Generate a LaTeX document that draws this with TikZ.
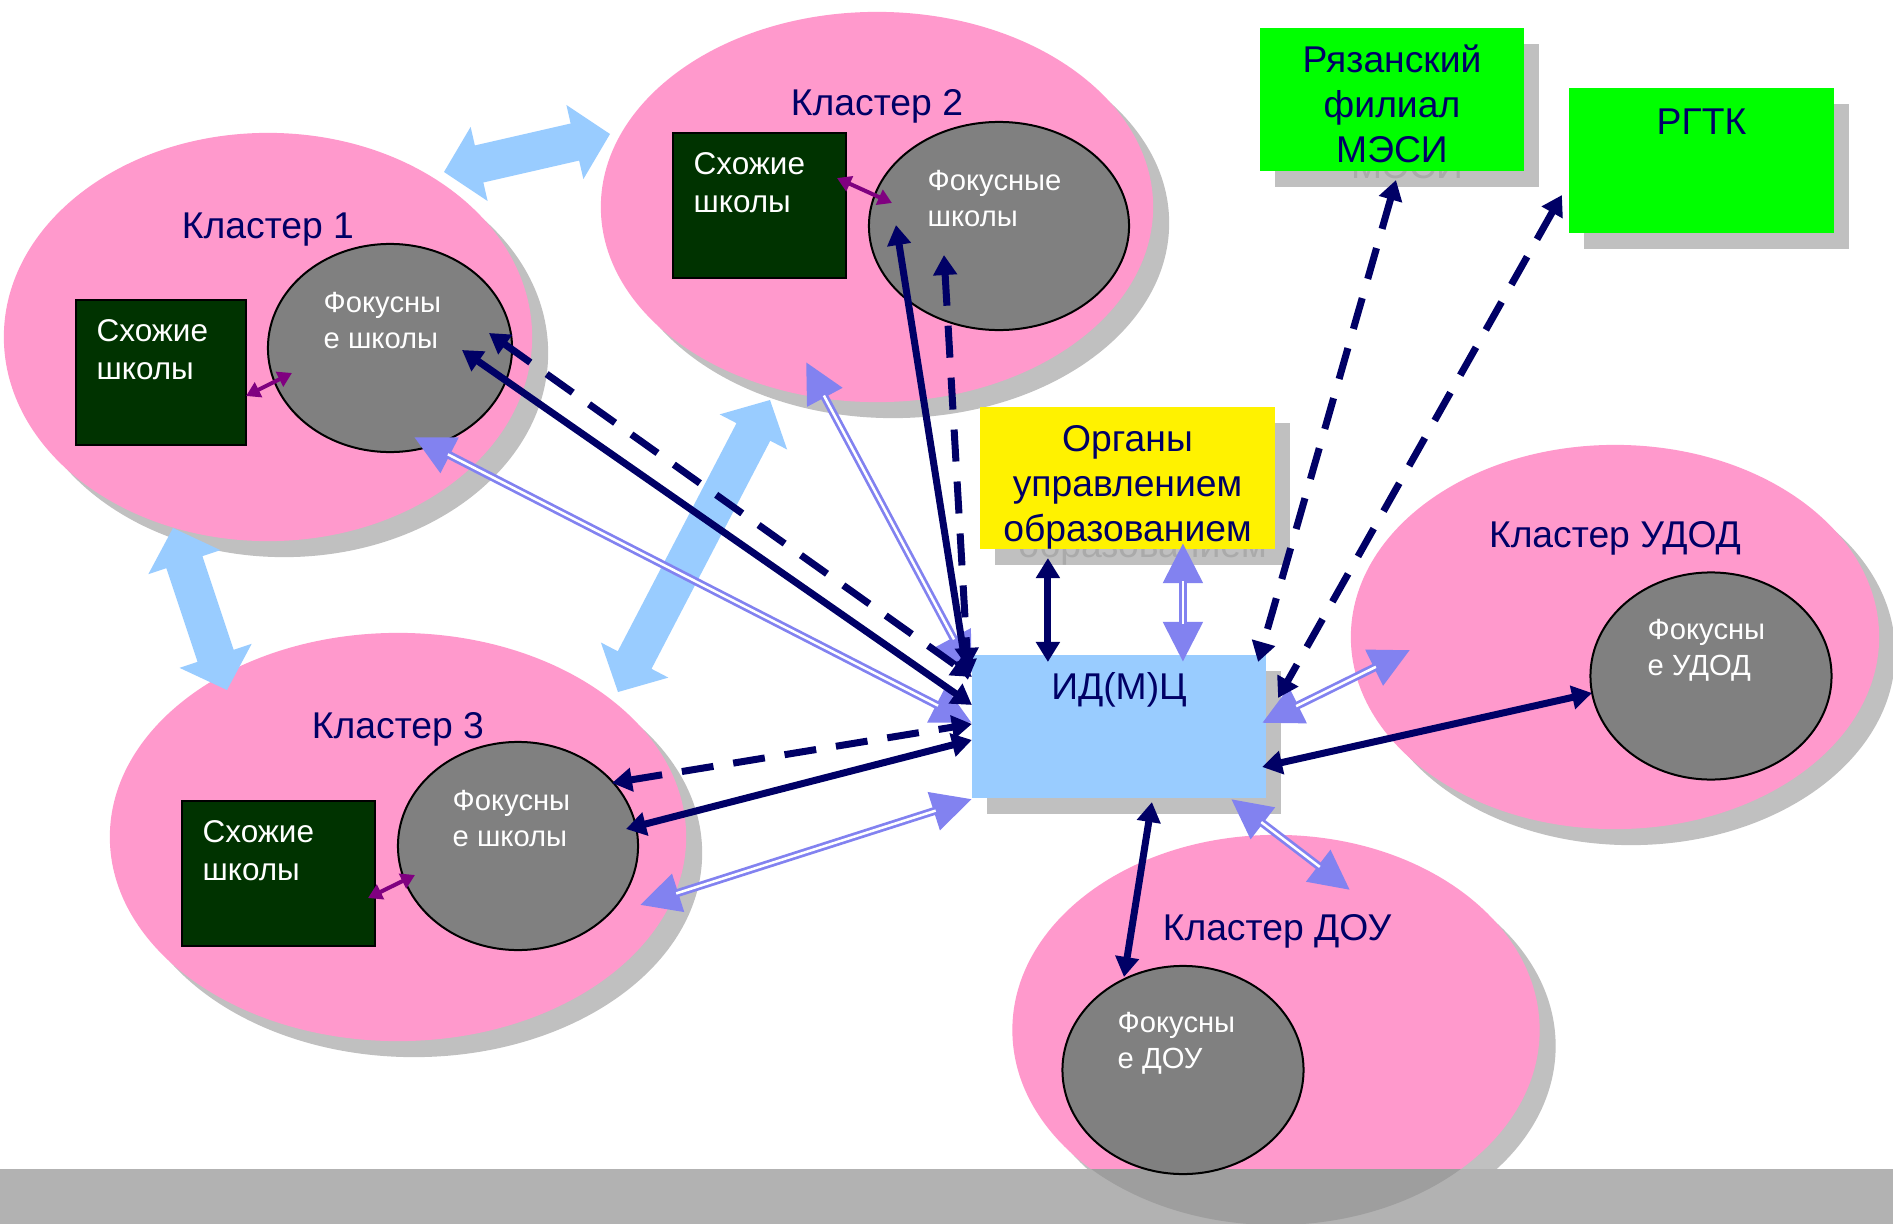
\documentclass[tikz,border=0pt]{standalone}
\usepackage{fontspec}
\setmainfont{Liberation Sans}
\usepackage{tikz}
\usetikzlibrary{calc}
\usetikzlibrary{arrows.meta}
\usetikzlibrary{shapes.geometric}
\usetikzlibrary{shadows}

\definecolor{pinkfill}{HTML}{FF99CC}
\definecolor{shadowgray}{HTML}{C0C0C0}
\definecolor{ghostgray}{HTML}{AAAAAA}
\definecolor{darkgreen}{HTML}{003300}
\definecolor{focusgray}{HTML}{808080}
\definecolor{navy}{HTML}{000066}
\definecolor{lightblue}{HTML}{99CCFF}
\definecolor{lilac}{HTML}{8282F0}
\definecolor{plum}{HTML}{800080}
\definecolor{bandgray}{HTML}{B2B2B2}
\definecolor{banddark}{HTML}{9E9E9E}

\newcommand{\blockarrow}[2]{%
  \coordinate (ba_a) at #1;
  \coordinate (ba_b) at #2;
  \fill[lightblue] (ba_a)
    -- ($(ba_a)!3.6mm!(ba_b)!3.8mm!90:(ba_b)$)
    -- ($(ba_a)!3.6mm!(ba_b)!1.9mm!90:(ba_b)$)
    -- ($(ba_b)!3.6mm!(ba_a)!1.9mm!-90:(ba_a)$)
    -- ($(ba_b)!3.6mm!(ba_a)!3.8mm!-90:(ba_a)$)
    -- (ba_b)
    -- ($(ba_b)!3.6mm!(ba_a)!3.8mm!90:(ba_a)$)
    -- ($(ba_b)!3.6mm!(ba_a)!1.9mm!90:(ba_a)$)
    -- ($(ba_a)!3.6mm!(ba_b)!1.9mm!-90:(ba_b)$)
    -- ($(ba_a)!3.6mm!(ba_b)!3.8mm!-90:(ba_b)$)
    -- cycle;}

\begin{document}
\begin{tikzpicture}[x=0.01cm, y=-0.01cm]
    \tikzstyle{cluster}=[ellipse, fill=pinkfill, inner sep=0pt, outer sep=0pt,
        drop shadow={shadow xshift=1.6mm, shadow yshift=-1.6mm, fill=shadowgray, opacity=1}]
    \tikzstyle{focus}=[ellipse, fill=focusgray, draw=black, line width=0.2mm, inner sep=0pt, outer sep=0pt]
    \tikzstyle{similar}=[rectangle, fill=darkgreen, draw=black, line width=0.2mm, inner sep=0pt, outer sep=0pt]
    \tikzstyle{idbox}=[rectangle, inner sep=0pt, outer sep=0pt]
    \tikzstyle{boxshadow}=[idbox, fill=shadowgray]
    \tikzstyle{ctitle}=[text=navy, font=\fontsize{10.6pt}{12.8pt}\selectfont, anchor=base, inner sep=0pt]
    \tikzstyle{boxtext}=[ctitle, align=center]
    \tikzstyle{ghost}=[boxtext, text=ghostgray]
    \tikzstyle{simtext}=[text=white, font=\fontsize{8.95pt}{10.67pt}\selectfont, align=left, anchor=base west, inner sep=0pt]
    \tikzstyle{focustext}=[text=white, font=\fontsize{8.3pt}{10.1pt}\selectfont, align=left, anchor=base west, inner sep=0pt]
    \tikzstyle{link}=[navy, line width=0.7mm, {Triangle[length=2mm,width=2.3mm]}-{Triangle[length=2mm,width=2.3mm]}]
    \tikzstyle{dlink}=[link, dash pattern=on 3.2mm off 2mm]
    \tikzstyle{twin}=[lilac, line width=0.8mm, {Triangle[length=4mm,width=3.8mm]}-{Triangle[length=4mm,width=3.8mm]},
        postaction={draw=white, line width=0.25mm, shorten <=3.8mm, shorten >=3.8mm, -}]
    \tikzstyle{pair}=[plum, line width=0.4mm, {Triangle[length=1.4mm,width=1.6mm]}-{Triangle[length=1.4mm,width=1.6mm]}]

    \path[use as bounding box, fill=white] (0,0) rectangle (1893,1224);

    \node[cluster, minimum width=5.28cm, minimum height=4.08cm]    (c_1)    at (268,337)   {};
    \node[cluster, minimum width=5.52cm, minimum height=3.90cm]    (c_2)    at (877,207)   {};
    \node[cluster, minimum width=5.76cm, minimum height=4.08cm]    (c_3)    at (398,837)   {};
    \node[cluster, minimum width=5.28cm, minimum height=3.84cm]    (c_udod) at (1615,637)  {};
    \node[cluster, minimum width=5.27cm, minimum height=3.90cm]    (c_dou)  at (1276,1030) {};

    % bottom band
    \fill[bandgray] (0,1169) rectangle (1893,1224);
    \begin{scope}
      \clip (0,1169) rectangle (1893,1224);
      \fill[banddark] (c_dou.center) ellipse [x radius=263.5, y radius=195];
    \end{scope}

    \node[similar, minimum width=1.70cm, minimum height=1.45cm]    (s_1)    at (161,372.5)   {};
    \node[similar, minimum width=1.73cm, minimum height=1.45cm]    (s_2)    at (759.5,205.5) {};
    \node[similar, minimum width=1.93cm, minimum height=1.45cm]    (s_3)    at (278.5,873.5) {};
    \node[focus, minimum width=2.44cm, minimum height=2.08cm]      (f_1)    at (390,348)   {};
    \node[focus, minimum width=2.60cm, minimum height=2.08cm]      (f_2)    at (999,226)   {};
    \node[focus, minimum width=2.40cm, minimum height=2.08cm]      (f_3)    at (518,846)   {};
    \node[focus, minimum width=2.41cm, minimum height=2.07cm]      (f_udod) at (1711,676)  {};
    \node[focus, minimum width=2.41cm, minimum height=2.08cm]      (f_dou)  at (1183,1070) {};

    % base of a two-line text is its second line
    \node[ctitle]    (t_1)    at ($(c_1.center)+(0,-99)$)    {Кластер 1};
    \node[ctitle]    (t_2)    at ($(c_2.center)+(0,-92)$)    {Кластер 2};
    \node[ctitle]    (t_3)    at ($(c_3.center)+(0,-99)$)    {Кластер 3};
    \node[ctitle]    (t_udod) at ($(c_udod.center)+(0,-90)$) {Кластер УДОД};
    \node[ctitle]    (t_dou)  at ($(c_dou.center)+(1,-90)$)  {Кластер ДОУ};
    \node[simtext]   (st_1)   at ($(s_1.north west)+(20,79.5)$) {Схожие\\школы};
    \node[simtext]   (st_2)   at ($(s_2.north west)+(20,79.5)$) {Схожие\\школы};
    \node[simtext]   (st_3)   at ($(s_3.north west)+(20,79.5)$) {Схожие\\школы};
    \node[focustext] (ft_1)    at ($(f_1.center)+(-67,0.5)$)    {Фокусны\\е школы};
    \node[focustext] (ft_2)    at ($(f_2.center)+(-72,0.5)$)    {Фокусные\\школы};
    \node[focustext] (ft_3)    at ($(f_3.center)+(-66,0.5)$)    {Фокусны\\е школы};
    \node[focustext] (ft_udod) at ($(f_udod.center)+(-64,-0.5)$) {Фокусны\\е УДОД};
    \node[focustext] (ft_dou)  at ($(f_dou.center)+(-66,-1.5)$)  {Фокусны\\е ДОУ};

    % boxes with their shadows
    \node[boxshadow, minimum width=2.64cm, minimum height=1.43cm] (mesi_s) at (1407,115.5) {};
    \node[ghost]     (mesi_g) at ($(mesi_s.north)+(0,135)$) {Рязанский\\филиал\\МЭСИ};
    \node[idbox, fill=green, minimum width=2.64cm, minimum height=1.43cm] (mesi) at (1392,99.5) {};
    \node[boxtext]   (mesi_t) at ($(mesi.north)+(0,135)$) {Рязанский\\филиал\\МЭСИ};
    \node[boxshadow, minimum width=2.65cm, minimum height=1.45cm] (rgtk_s) at (1716.5,176.5) {};
    \node[idbox, fill=green, minimum width=2.65cm, minimum height=1.45cm] (rgtk) at (1701.5,160.5) {};
    \node[boxtext]   (rgtk_t) at ($(rgtk.north)+(0,47)$) {РГТК};
    \node[boxshadow, minimum width=2.95cm, minimum height=1.42cm] (organy_s) at (1142.5,494) {};
    \node[ghost]     (organy_g) at ($(organy_s.north)+(0,135)$) {Органы\\управлением\\образованием};
    \node[idbox, fill=yellow, minimum width=2.95cm, minimum height=1.42cm] (organy) at (1127.5,478) {};
    \node[boxtext]   (organy_t) at ($(organy.north)+(0,135)$) {Органы\\управлением\\образованием};
    \node[boxshadow, minimum width=2.94cm, minimum height=1.43cm] (idmc_s) at (1134,742.5) {};
    \node[idbox, fill=lightblue, minimum width=2.94cm, minimum height=1.43cm] (idmc) at (1119,726.5) {};
    \node[boxtext]   (idmc_t) at ($(idmc.north)+(0,45)$) {ИД(М)Ц};

    \blockarrow{($(c_1.center)+(176,-165)$)}{($(c_2.center)+(-267,-73)$)}
    \blockarrow{($(c_1.center)+(-95,191)$)}{($(c_3.center)+(-171,-147)$)}
    \blockarrow{($(c_2.center)+(-107,193)$)}{($(c_3.center)+(220,-145)$)}

    \path
    ($(s_1.center)+(85,23.5)$)
      edge[pair]    ($(f_1.center)+(-98,25)$)
    ($(s_2.center)+(77.5,-27.5)$)
      edge[pair]    ($(f_2.center)+(-107,-23)$)
    ($(s_3.center)+(89.5,24.5)$)
      edge[pair]    ($(f_3.center)+(-103,29)$);

    \path
    ($(f_1.center)+(24,89)$)
      edge[twin]    ($(idmc.north west)+(0,68)$)
    ($(c_2.center)+(-71,155)$)
      edge[twin]    ($(idmc.north west)+(0,18)$)
    ($(c_3.center)+(242,68)$)
      edge[twin]    ($(idmc.south west)+(0,1)$)
    ($(organy.south west)+(203,-6)$)
      edge[twin]    ($(idmc.north west)+(211,7)$)
    ($(idmc.north east)+(-4,68)$)
      edge[twin]    ($(c_udod.center)+(-205,13)$)
    ($(idmc.south east)+(-35,1)$)
      edge[twin]    ($(c_dou.center)+(74,-140)$);

    \path
    ($(f_1.center)+(72,2)$)
      edge[link]    ($(idmc.north west)+(0,50)$)
    ($(f_1.center)+(99,-15)$)
      edge[dlink]   ($(idmc.north west)+(0,22)$)
    ($(f_2.center)+(-103,-1)$)
      edge[link]    ($(idmc.north west)+(-4,25)$)
    ($(f_2.center)+(-55,29)$)
      edge[dlink]   ($(idmc.north west)+(-4,13)$)
    ($(f_3.center)+(108,-17)$)
      edge[link]    ($(idmc.north west)+(0,85)$)
    ($(f_3.center)+(94,-63)$)
      edge[dlink]   ($(idmc.north west)+(0,69)$)
    ($(organy.south west)+(68,9)$)
      edge[link]    ($(idmc.north west)+(76,7)$)
    ($(idmc.north east)+(-4,112)$)
      edge[link]    ($(f_udod.center)+(-119,17)$)
    ($(idmc.south west)+(180,4)$)
      edge[link]    ($(f_dou.center)+(-59,-93)$)
    ($(mesi.south)+(4,9)$)
      edge[dlink]   ($(idmc.north east)+(-8,7)$)
    ($(rgtk.south west)+(-7,-38)$)
      edge[dlink]   ($(idmc.north east)+(12,43)$);
\end{tikzpicture}
\end{document}
